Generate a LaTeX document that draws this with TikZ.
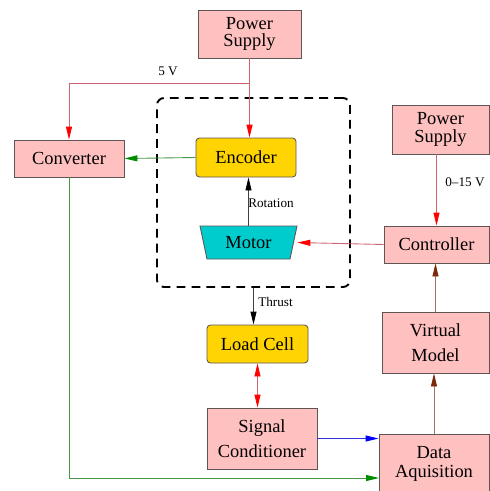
\documentclass[tikz,border=0pt]{standalone}
\usepackage{fontspec}
\setmainfont{Liberation Serif}
\usetikzlibrary{arrows.meta}

\definecolor{boxpink}{RGB}{255,192,192}
\definecolor{boxyellow}{RGB}{255,212,0}
\definecolor{motorcyan}{RGB}{0,204,206}
\definecolor{boxline}{RGB}{95,85,85}
\definecolor{redline}{RGB}{205,100,110}
\definecolor{greenline}{RGB}{70,150,70}
\definecolor{greenhead}{RGB}{0,140,0}
\definecolor{blueline}{RGB}{50,50,220}
\definecolor{brownline}{RGB}{165,115,95}
\definecolor{brownhead}{RGB}{125,40,10}

\tikzset{
  block/.style={draw=boxline, fill=boxpink, line width=0.5pt, inner sep=0pt,
    align=center, font=\fontsize{10.5}{10}\selectfont},
  sensor/.style={block, fill=boxyellow, rounded corners=2pt},
  motorbox/.style={inner sep=0pt, font=\fontsize{10.5}{10}\selectfont,
    minimum width=19.4mm, minimum height=6.6mm},
  lab/.style={font=\fontsize{7.5}{9}\selectfont, inner sep=0pt},
  tip/.style={-{Triangle[length=2.6mm, width=1.2mm, #1]}},
  redarrow/.style={draw=redline, line width=0.5pt, tip={red}},
  greenarrow/.style={draw=greenline, line width=0.5pt, tip={greenhead}},
  bluearrow/.style={draw=blueline, line width=0.5pt, tip={blue}},
  brownarrow/.style={draw=brownline, line width=0.5pt, tip={brownhead}},
  blackarrow/.style={draw=black!75, line width=0.5pt, tip={black}},
}

\begin{document}
\begin{tikzpicture}[x=0.2mm, y=-0.2mm]

  \useasboundingbox (0,0) rectangle (490,491);
  \clip (0,0) rectangle (490,491);

  % --- motor + encoder housing (tratteggiato) ---
  \node[draw, dashed, line width=1.1pt, dash pattern=on 5pt off 3.5pt,
    rounded corners=4pt, minimum width=38.6mm, minimum height=37.8mm]
    (plant) at (253.5,192.5) {};

  % --- power supplies ---
  \node[block, minimum width=20.6mm, minimum height=9.6mm] (ps1) at (249.5,34) {Power\\Supply};
  \node[block, minimum width=19.4mm, minimum height=9.8mm] (ps2) at (440.5,129.5) {Power\\Supply};

  % --- left / middle column ---
  \node[block, minimum width=22mm, minimum height=7.4mm] (conv) at (69,158.5) {Converter};
  \node[sensor, minimum width=20mm, minimum height=7.8mm] (enc) at (246,157.5) {Encoder};
  \filldraw[fill=motorcyan, draw=boxline, line width=0.5pt]
    (200,226) -- (297,226) -- (290,259) -- (207,259) -- cycle;
  \node[motorbox] (motor) at (248.5,242.5) {Motor};
  \node[sensor, minimum width=20.2mm, minimum height=7.6mm] (cell) at (257.5,344) {Load Cell};
  \node[block, minimum width=22mm, minimum height=12.2mm] (sigcond) at (262,438.5) {Signal\\[4.2pt]Conditioner};

  % --- right column ---
  \node[block, minimum width=21mm, minimum height=7.4mm] (ctrl) at (436.5,244.5) {Controller};
  \node[block, minimum width=21.4mm, minimum height=12.2mm] (vmodel) at (435.5,342.5) {Virtual\\[4.2pt]Model};
  \node[block, minimum width=22mm, minimum height=11.8mm] (daq) at (434,463.5) {Data\\[0.8pt]Aquisition};

  % --- 5 V supply ---
  \coordinate (tap5v) at (249.5,83);
  \draw[redarrow] (ps1.south) -- (ps1.south |- enc.north);
  \draw[redarrow] (tap5v) -| (conv.north);
  \node[lab] (lab5v) at (168,71) {5 V};

  % --- encoder -> converter -> data acquisition ---
  \coordinate (daqin) at (379,478);
  \draw[greenarrow] (enc.west) -- (conv.east);
  \draw[greenarrow] (conv.south) |- (daqin);

  % --- motor ---
  \draw[blackarrow] (motor.north) -- (motor.north |- enc.south);
  \node[lab, anchor=west] (labrot) at (248,203) {Rotation};
  \draw[redarrow] (ctrl.west) -- (motor.east);
  \draw[blackarrow] (plant.south) -- (plant.south |- cell.north);
  \node[lab, anchor=west] (labthrust) at (258,302) {Thrust};

  % --- load cell <-> signal conditioner ---
  \draw[draw=redline, line width=0.5pt,
    {Triangle[length=2.6mm, width=1.2mm, red]}-{Triangle[length=2.6mm, width=1.2mm, red]}]
    (cell.south) -- (cell.south |- sigcond.north);
  \draw[bluearrow] (sigcond.east) -- (sigcond.east -| daq.west);

  % --- loop through virtual model ---
  \draw[redarrow] (ps2.south -| ctrl.north) -- (ctrl.north);
  \node[lab, anchor=west] (lab15v) at (445,182) {0--15 V};
  \draw[brownarrow] (daq.north) -- (daq.north |- vmodel.south);
  \draw[brownarrow] (vmodel.north) -- (vmodel.north |- ctrl.south);

\end{tikzpicture}
\end{document}
